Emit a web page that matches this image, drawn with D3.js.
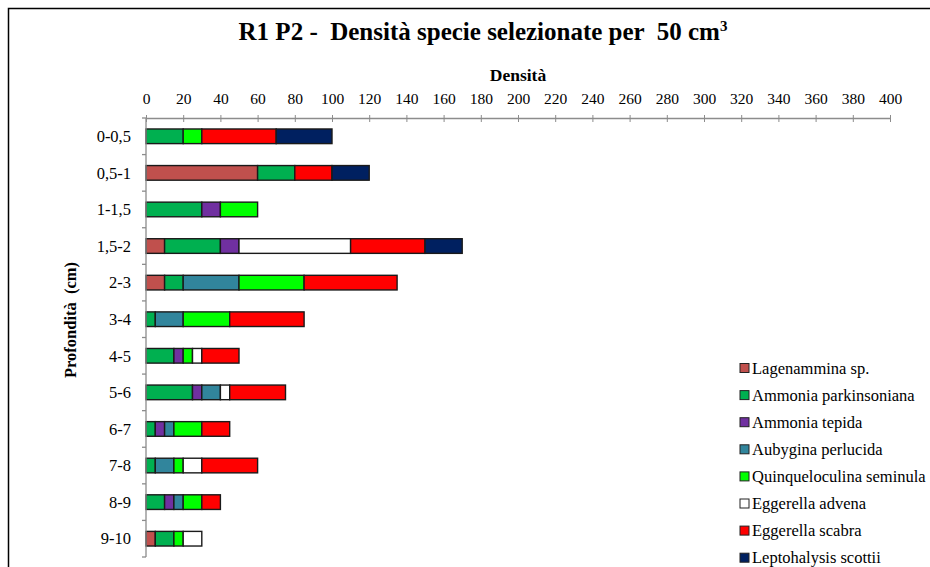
<!DOCTYPE html>
<html>
<head>
<meta charset="utf-8">
<script src="https://cdn.jsdelivr.net/npm/d3@7"></script>
<style>
  html, body { margin: 0; padding: 0; background: #fff; }
  svg { display: block; }
  svg text { font-family: "Liberation Serif", "Times New Roman", serif; }
</style>
</head>
<body>
<svg id="chart" width="930" height="567"></svg>
<script>
// Depth intervals (cm)
const depths = ["0-0,5", "0,5-1", "1-1,5", "1,5-2", "2-3", "3-4", "4-5", "5-6", "6-7", "7-8", "8-9", "9-10"];

// Species and their fill colours
const species = [
  "Lagenammina sp.",
  "Ammonia parkinsoniana",
  "Ammonia tepida",
  "Aubygina perlucida",
  "Quinqueloculina seminula",
  "Eggerella advena",
  "Eggerella scabra",
  "Leptohalysis scottii"
];
const colors = ["#C0504D", "#00B050", "#7030A0", "#31859C", "#00FF00", "#FFFFFF", "#FF0000", "#002060"];

// Density per 50 cm³, one array per species, in depth order
const lagenammina     = [0, 60, 0, 10, 10, 0, 0, 0, 0, 0, 0, 5];
const ammoniaPark     = [20, 20, 30, 30, 10, 5, 15, 25, 5, 5, 10, 10];
const ammoniaTepida   = [0, 0, 10, 10, 0, 0, 5, 5, 5, 0, 5, 0];
const aubygina        = [0, 0, 0, 0, 30, 15, 0, 10, 5, 10, 5, 0];
const quinqueloculina = [10, 0, 20, 0, 35, 25, 5, 0, 15, 5, 10, 5];
const eggAdvena       = [0, 0, 0, 60, 0, 0, 5, 5, 0, 10, 0, 10];
const eggScabra       = [40, 20, 0, 40, 50, 40, 20, 30, 15, 30, 10, 0];
const leptohalysis    = [30, 20, 0, 20, 0, 0, 0, 0, 0, 0, 0, 0];

const xTicks = d3.range(0, 401, 20);

const seriesValues = [lagenammina, ammoniaPark, ammoniaTepida, aubygina,
                      quinqueloculina, eggAdvena, eggScabra, leptohalysis];

const rows = depths.map((d, i) => {
  const r = { depth: d };
  species.forEach((s, j) => { r[s] = seriesValues[j][i]; });
  return r;
});

const svg = d3.select("#chart");

// outer frame
svg.append("rect")
  .attr("x", 8.5).attr("y", 8.5)
  .attr("width", 940).attr("height", 600)
  .attr("fill", "none").attr("stroke", "#000").attr("stroke-width", 1.5);

const plot = { left: 146, right: 890, top: 118, bottom: 557 };

const x = d3.scaleLinear().domain([0, 400]).range([plot.left, plot.right]);
const y = d3.scaleBand().domain(depths).range([plot.top, plot.bottom]).paddingInner(0.6).paddingOuter(0.3);

// title
const title = svg.append("text")
  .attr("x", 483).attr("y", 40)
  .attr("text-anchor", "middle")
  .attr("font-weight", "bold").attr("font-size", 25)
  .style("white-space", "pre")
  .text("R1 P2 -  Densità specie selezionate per  50 cm");
title.append("tspan").attr("dy", -9).attr("font-size", 15).text("3");

// x axis title
svg.append("text")
  .attr("x", (plot.left + plot.right) / 2).attr("y", 81)
  .attr("text-anchor", "middle")
  .attr("font-weight", "bold").attr("font-size", 17.5)
  .text("Densità");

// y axis title
svg.append("text")
  .attr("transform", "translate(76,320) rotate(-90)")
  .attr("text-anchor", "middle")
  .attr("font-weight", "bold").attr("font-size", 16.5)
  .style("white-space", "pre")
  .text("Profondità  (cm)");

// stacked bars
const stack = d3.stack().keys(species)(rows);
const layers = svg.append("g").selectAll("g")
  .data(stack).join("g")
  .attr("fill", (d, i) => colors[i]);

layers.selectAll("rect")
  .data(d => d.filter(p => p[1] - p[0] > 0))
  .join("rect")
  .attr("x", p => x(p[0]))
  .attr("y", p => y(p.data.depth))
  .attr("width", p => x(p[1]) - x(p[0]))
  .attr("height", y.bandwidth())
  .attr("stroke", "#1a1a1a").attr("stroke-width", 1.4);

// top x axis
const xAxis = d3.axisTop(x).tickValues(xTicks).tickSize(4).tickPadding(6).tickSizeOuter(0);
const gx = svg.append("g").attr("transform", `translate(0,${plot.top})`).call(xAxis);
gx.attr("font-family", null);
gx.select(".domain").attr("stroke", "#8c8c8c").attr("stroke-width", 1.3);
gx.selectAll(".tick line").attr("stroke", "#8c8c8c").attr("y2", 4).attr("y1", -3);
gx.selectAll(".tick text")
  .attr("font-size", 15.5).attr("fill", "#000").attr("y", -14);

// left y axis: boundaries between depth classes
const gy = svg.append("g");
gy.append("line")
  .attr("x1", plot.left).attr("x2", plot.left)
  .attr("y1", plot.top).attr("y2", plot.bottom)
  .attr("stroke", "#8c8c8c").attr("stroke-width", 1.3);
const step = y.step();
gy.selectAll("line.tk")
  .data(d3.range(depths.length + 1))
  .join("line").attr("class", "tk")
  .attr("x1", plot.left - 4).attr("x2", plot.left)
  .attr("y1", i => plot.top + i * step).attr("y2", i => plot.top + i * step)
  .attr("stroke", "#8c8c8c").attr("stroke-width", 1.3);
gy.selectAll("text")
  .data(depths).join("text")
  .attr("x", 131)
  .attr("y", d => y(d) + y.bandwidth() / 2)
  .attr("dy", "0.35em")
  .attr("text-anchor", "end")
  .attr("font-size", 16.5)
  .text(d => d);

// legend
const legend = svg.append("g").attr("transform", "translate(740,368)");
const li = legend.selectAll("g").data(species).join("g")
  .attr("transform", (d, i) => `translate(0,${i * 27.1})`);
li.append("rect")
  .attr("x", 0).attr("y", -4.5).attr("width", 9).attr("height", 9)
  .attr("fill", (d, i) => colors[i])
  .attr("stroke", "#222").attr("stroke-width", 1);
li.append("text")
  .attr("x", 12).attr("y", 0).attr("dy", "0.35em")
  .attr("font-size", 16.5)
  .text(d => d);
</script>
</body>
</html>
